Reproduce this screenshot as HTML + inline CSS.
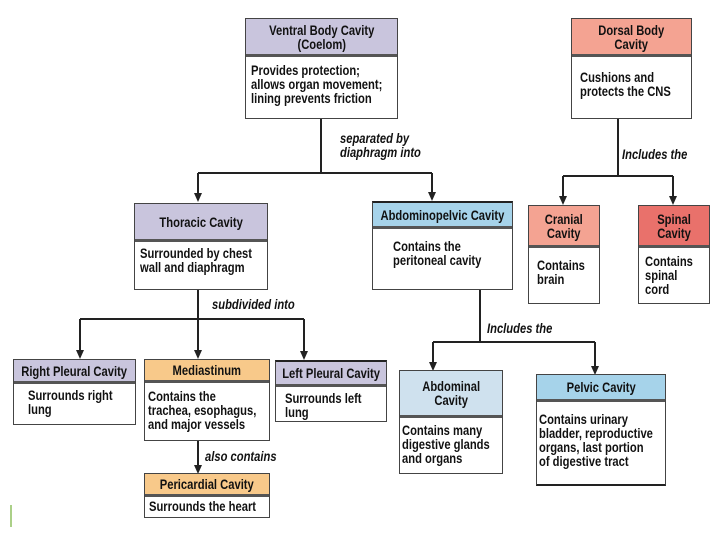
<!DOCTYPE html>
<html><head><meta charset="utf-8"><style>
body{margin:0;width:720px;height:540px;background:#fff;position:relative;overflow:hidden;font-family:"Liberation Sans",sans-serif;font-weight:bold;color:#111}
.b{position:absolute;border:1.5px solid #444;background:#fff;box-sizing:border-box}
.h{border-bottom:3px solid #555;box-sizing:border-box;display:flex;align-items:center;justify-content:center;text-align:center;font-size:14px;line-height:14px;white-space:nowrap;overflow:visible}
.h span{display:inline-block;transform:scaleX(.8);transform-origin:center}
.t{font-size:14px;line-height:14px;padding:4px 5px;white-space:nowrap}
.t span{display:inline-block;transform:scaleX(.8);transform-origin:left top}
.l{position:absolute;font-style:italic;font-size:14px;line-height:14px;white-space:nowrap;transform:scaleX(.8);transform-origin:left top}
svg{position:absolute;left:0;top:0}
</style></head><body>
<svg width="720" height="540">
<g stroke="#222" stroke-width="2" fill="none">
<path d="M321,118 V173 M198,173 H432"/>
<path d="M198,173 V200 M432,173 V199"/>
<path d="M618,118 V176 M563,176 H673 M563,176 V203 M673,176 V203"/>
<path d="M198,289 V357 M80,319 H304 M80,319 V357 M304,319 V358"/>
<path d="M480,289 V342 M433,342 H595 M433,342 V368 M595,342 V372"/>
<path d="M198,440 V471"/>
</g>
<g fill="#222">
<path d="M194,193 h8 l-4,9z M428,192 h8 l-4,9z M559,196 h8 l-4,9z M669,196 h8 l-4,9z M76,350 h8 l-4,9z M194,350 h8 l-4,9z M300,351 h8 l-4,9z M429,362 h8 l-4,9z M591,366 h8 l-4,9z M194,465 h8 l-4,9z"/>
</g>
<line x1="11" y1="505" x2="11" y2="527" stroke="#8fc060" stroke-width="1.5"/>
</svg>

<div class="b" style="left:245px;top:18px;width:153px;height:101px"><div class="h" style="height:38px;background:#c9c5dd"><span>Ventral Body Cavity<br>(Coelom)</span></div><div class="t" style="padding-top:6px"><span>Provides protection;<br>allows organ movement;<br>lining prevents friction</span></div></div>
<div class="b" style="left:571px;top:18px;width:121px;height:101px"><div class="h" style="height:38px;background:#f4a392"><span>Dorsal Body<br>Cavity</span></div><div class="t" style="padding:13px 8px"><span>Cushions and<br>protects the CNS</span></div></div>
<div class="l" style="left:340px;top:131px">separated by<br>diaphragm into</div>
<div class="l" style="left:622px;top:147px">Includes the</div>
<div class="b" style="left:134px;top:203px;width:134px;height:87px"><div class="h" style="height:38px;background:#c9c5dd"><span>Thoracic Cavity</span></div><div class="t"><span>Surrounded by chest<br>wall and diaphragm</span></div></div>
<div class="b" style="left:372px;top:201px;width:141px;height:89px;border-top:2.5px solid #222"><div class="h" style="height:26px;background:#a6d3ea"><span>Abdominopelvic Cavity</span></div><div class="t" style="padding:10px 20px"><span>Contains the<br>peritoneal cavity</span></div></div>
<div class="b" style="left:528px;top:205px;width:72px;height:99px"><div class="h" style="height:42px;background:#f4a392"><span>Cranial<br>Cavity</span></div><div class="t" style="padding:10px 8px"><span>Contains<br>brain</span></div></div>
<div class="b" style="left:638px;top:205px;width:72px;height:99px"><div class="h" style="height:42px;background:#e9716b"><span>Spinal<br>Cavity</span></div><div class="t" style="padding:6px 6px"><span>Contains<br>spinal<br>cord</span></div></div>
<div class="l" style="left:212px;top:297px">subdivided into</div>
<div class="l" style="left:487px;top:321px">Includes the</div>
<div class="b" style="left:13px;top:359px;width:123px;height:66px"><div class="h" style="height:24px;background:#c9c5dd"><span>Right Pleural Cavity</span></div><div class="t" style="padding:4px 14px"><span>Surrounds right<br>lung</span></div></div>
<div class="b" style="left:144px;top:359px;width:126px;height:82px"><div class="h" style="height:23px;background:#f8c98a"><span>Mediastinum</span></div><div class="t" style="padding:6px 3px"><span>Contains the<br>trachea, esophagus,<br>and major vessels</span></div></div>
<div class="b" style="left:275px;top:360px;width:112px;height:62px;border-top:2.5px solid #222"><div class="h" style="height:25px;background:#c9c5dd"><span>Left Pleural Cavity</span></div><div class="t" style="padding:4px 9px"><span>Surrounds left<br>lung</span></div></div>
<div class="l" style="left:205px;top:449px">also contains</div>
<div class="b" style="left:144px;top:473px;width:126px;height:45px"><div class="h" style="height:23px;background:#f8c98a"><span>Pericardial Cavity</span></div><div class="t" style="padding:2px 4px"><span>Surrounds the heart</span></div></div>
<div class="b" style="left:399px;top:370px;width:104px;height:104px"><div class="h" style="height:47px;background:#cfe1ee"><span>Abdominal<br>Cavity</span></div><div class="t" style="padding:5px 2px"><span>Contains many<br>digestive glands<br>and organs</span></div></div>
<div class="b" style="left:536px;top:374px;width:130px;height:112px;border-bottom:2.5px solid #222"><div class="h" style="height:27px;background:#a6d3ea"><span>Pelvic Cavity</span></div><div class="t" style="padding:10px 2px"><span>Contains urinary<br>bladder, reproductive<br>organs, last portion<br>of digestive tract</span></div></div>
</body></html>
